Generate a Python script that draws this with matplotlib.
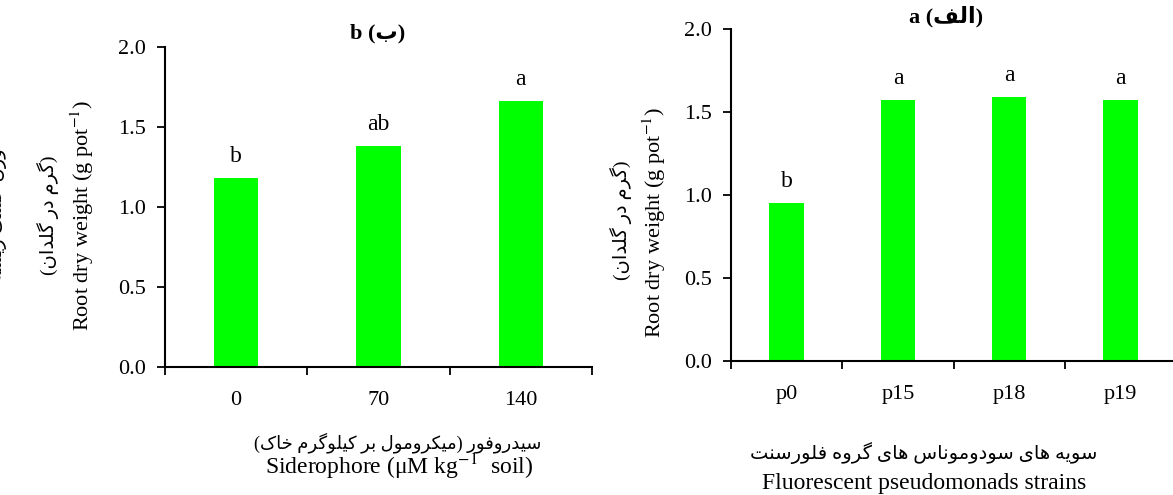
import matplotlib
matplotlib.use("Agg")
import matplotlib.pyplot as plt
import numpy as np

# data
sid_levels = ["0", "70", "140"]
sid_weight = [1.18, 1.38, 1.66]
sid_letters = ["b", "ab", "a"]

strains = ["p0", "p15", "p18", "p19"]
strain_weight = [0.95, 1.57, 1.59, 1.57]
strain_letters = ["b", "a", "a", "a"]

plt.rcParams['font.family'] = ['Liberation Serif', 'DejaVu Sans']
plt.rcParams['mathtext.fontset'] = 'stix'
plt.rcParams['font.size'] = 16

# minimal Persian shaping: (isolated, final, initial, medial)
FORMS = {
    'ا': (0xFE8D, 0xFE8E), 'د': (0xFEA9, 0xFEAA), 'ر': (0xFEAD, 0xFEAE),
    'ز': (0xFEAF, 0xFEB0), 'و': (0xFEED, 0xFEEE),
    'ب': (0xFE8F, 0xFE90, 0xFE91, 0xFE92), 'ت': (0xFE95, 0xFE96, 0xFE97, 0xFE98),
    'خ': (0xFEA5, 0xFEA6, 0xFEA7, 0xFEA8), 'س': (0xFEB1, 0xFEB2, 0xFEB3, 0xFEB4),
    'ش': (0xFEB5, 0xFEB6, 0xFEB7, 0xFEB8), 'ف': (0xFED1, 0xFED2, 0xFED3, 0xFED4),
    'ل': (0xFEDD, 0xFEDE, 0xFEDF, 0xFEE0), 'م': (0xFEE1, 0xFEE2, 0xFEE3, 0xFEE4),
    'ن': (0xFEE5, 0xFEE6, 0xFEE7, 0xFEE8), 'ه': (0xFEE9, 0xFEEA, 0xFEEB, 0xFEEC),
    'ی': (0xFBFC, 0xFBFD, 0xFBFE, 0xFBFF), 'ک': (0xFB8E, 0xFB8F, 0xFB90, 0xFB91),
    'گ': (0xFB92, 0xFB93, 0xFB94, 0xFB95),
}


def fa(text):
    out = []
    for i, ch in enumerate(text):
        if ch not in FORMS:
            out.append({'(': ')', ')': '('}.get(ch, ch))
            continue
        prev = text[i - 1] if i > 0 else ''
        nxt = text[i + 1] if i + 1 < len(text) else ''
        join_prev = prev in FORMS and len(FORMS[prev]) == 4
        join_next = len(FORMS[ch]) == 4 and nxt in FORMS
        f = FORMS[ch]
        if join_prev and join_next:
            code = f[3]
        elif join_prev:
            code = f[1]
        elif join_next:
            code = f[2]
        else:
            code = f[0]
        out.append(chr(code))
    return ''.join(out[::-1])


fig = plt.figure(figsize=(11.73, 4.95), dpi=100)
W, H = 1173, 495


def make_axes(l, r, b, t):
    return fig.add_axes([l / W, 1 - b / H, (r - l) / W, (b - t) / H])


def style(ax, n, labels):
    x = np.arange(n)
    ax.set_xlim(-0.5, n - 0.5)
    ax.set_ylim(0, 2.0)
    ax.set_yticks([0, 0.5, 1.0, 1.5, 2.0])
    ax.set_yticklabels(['0.0', '0.5', '1.0', '1.5', '2.0'])
    ax.set_xticks(x)
    ax.set_xticklabels(labels)
    ax.set_xticks(np.arange(n + 1) - 0.5, minor=True)
    ax.tick_params(axis='x', which='major', length=0, pad=17)
    ax.tick_params(axis='x', which='minor', length=6, width=1.3, direction='out')
    ax.tick_params(axis='y', length=6, width=1.3, direction='out', pad=8)
    for s in ['top', 'right']:
        ax.spines[s].set_visible(False)
    for s in ['left', 'bottom']:
        ax.spines[s].set_linewidth(1.5)
    ax.patch.set_alpha(0)


# left panel (b)
ax1 = make_axes(165, 592, 367, 47)
x1 = np.arange(len(sid_levels))
ax1.bar(x1, sid_weight, width=0.31, color='#00FF00')
for xi, v, t in zip(x1, sid_weight, sid_letters):
    ax1.annotate(t, (xi, v), xytext=(0, 8), textcoords='offset points',
                 ha='center', va='bottom', fontsize=17)
style(ax1, len(sid_levels), sid_levels)
fig.text(378 / W, 1 - 33 / H, 'b (' + fa('ب') + ')', fontweight='bold',
         fontsize=16, ha='center', va='center')

# right panel (a)
ax2 = make_axes(731, 1176, 361, 29)
x2 = np.arange(len(strains))
ax2.bar(x2, strain_weight, width=0.31, color='#00FF00')
for xi, v, t in zip(x2, strain_weight, strain_letters):
    ax2.annotate(t, (xi, v), xytext=(0, 8), textcoords='offset points',
                 ha='center', va='bottom', fontsize=17)
style(ax2, len(strains), strains)
fig.text(946 / W, 1 - 17 / H, 'a (' + fa('الف') + ')', fontweight='bold',
         fontsize=16, ha='center', va='center')

# axis labels
ylab_en = 'Root dry weight (g pot$^{-1}$)'
ylab_fa = '(' + fa('گرم در گلدان') + ')'
ylab_fa0 = fa('وزن خشک ریشه')

fig.text(82 / W, 1 - 215 / H, ylab_en, rotation=90, ha='center', va='center')
fig.text(48 / W, 1 - 215 / H, ylab_fa, rotation=90, ha='center', va='center', fontsize=14)
fig.text(-3 / W, 1 - 215 / H, ylab_fa0, rotation=90, ha='center', va='center', fontsize=14)

fig.text(654 / W, 1 - 222 / H, ylab_en, rotation=90, ha='center', va='center')
fig.text(621 / W, 1 - 220 / H, ylab_fa, rotation=90, ha='center', va='center', fontsize=14)

fig.text(398 / W, 1 - 443 / H, fa('سیدروفور (میکرومول بر کیلوگرم خاک)'),
         ha='center', va='center', fontsize=13)
fig.text(399 / W, 1 - 467 / H, 'Siderophore ($\\mathregular{\\mu}$M kg$^{-1}$  soil)',
         ha='center', va='center', fontsize=17)

fig.text(924 / W, 1 - 453 / H, fa('سویه های سودوموناس های گروه فلورسنت'),
         ha='center', va='center', fontsize=14)
fig.text(924 / W, 1 - 484 / H, 'Fluorescent pseudomonads strains',
         ha='center', va='center', fontsize=17)

fig.savefig('out.png', dpi=100)
